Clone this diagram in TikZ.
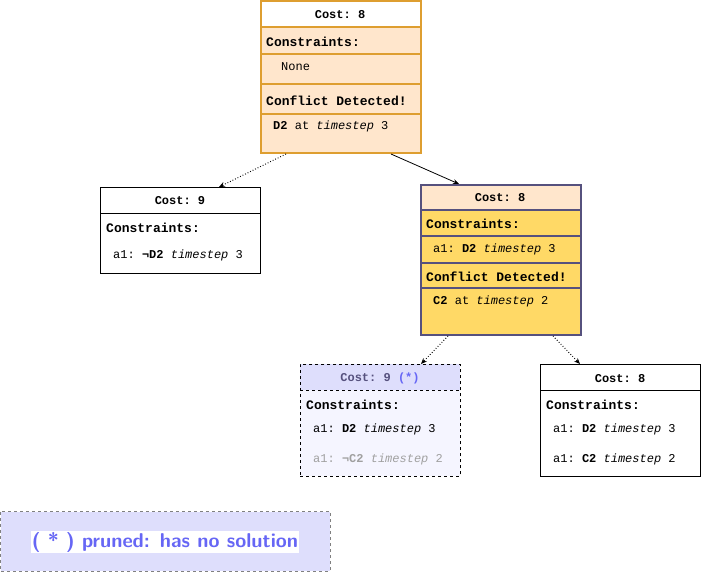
\documentclass[tikz,border=0pt]{standalone}
\usepackage{fontspec}
\setmainfont{Liberation Sans}
\setmonofont{Liberation Mono}
\usetikzlibrary{arrows.meta}

\definecolor{ordraw}{RGB}{222,158,48}
\definecolor{orfill}{HTML}{FFE6CC}
\definecolor{yefill}{HTML}{FFD966}
\definecolor{pudraw}{HTML}{56517E}
\definecolor{lavhead}{HTML}{DEDEFC}
\definecolor{lavbody}{HTML}{F5F5FF}
\definecolor{prunblue}{HTML}{6666F5}
\definecolor{greytxt}{HTML}{A0A0A0}

\tikzset{
  costlbl/.style={inner sep=0pt, yshift=-0.8pt, font=\ttfamily\bfseries\fontsize{12}{14}\selectfont},
  headlbl/.style={anchor=west, inner sep=0pt, yshift=-0.8pt, font=\ttfamily\bfseries\fontsize{13}{15}\selectfont},
  rowlbl/.style={anchor=west, inner sep=0pt, yshift=-0.8pt, font=\ttfamily\fontsize{12}{14}\selectfont},
  frame/.style={anchor=north west, inner sep=0pt, minimum width=160pt, fill=none},
  tip/.style={-{Stealth[length=6pt, width=5pt]}, line width=0.8pt}
}

\begin{document}
\begin{tikzpicture}[x=1pt, y=1pt]
  \useasboundingbox (0,0) rectangle (701,-572);
  \fill[fill=white] (260,0) rectangle (420,-27);
  \fill[fill=orfill] (260,-27) rectangle (420,-152);
  \draw[ordraw, line width=2pt] (260,-27) -- (420,-27);
  \draw[ordraw, line width=2pt] (260,-54) -- (420,-54);
  \draw[ordraw, line width=2pt] (260,-84) -- (420,-84);
  \draw[ordraw, line width=2pt] (260,-114) -- (420,-114);
  \node[frame, draw=ordraw, line width=2pt, minimum height=152pt] (root) at (260,0) {};
  \node[costlbl] (rootcost) at (340,-14) {Cost: 8};
  \node[headlbl] (rootcons) at (266,-41) {Constraints:};
  \node[rowlbl] (rootnone) at (281,-66) {None};
  \node[headlbl] (rootconf) at (266,-100) {Conflict Detected!};
  \node[rowlbl] (rootat) at (273,-126) {\textbf{D2} at \textit{timestep} 3};
  \fill[fill=white] (100,-187) rectangle (260,-273);
  \draw[black, line width=0.8pt] (100,-213) -- (260,-213);
  \node[frame, draw=black, line width=0.8pt, minimum height=86pt] (left) at (100,-187) {};
  \node[costlbl] (leftcost) at (180,-200) {Cost: 9};
  \node[headlbl] (leftcons) at (106,-227) {Constraints:};
  \node[rowlbl] (leftrow) at (113,-255) {a1: \textbf{¬D2} \textit{timestep} 3};
  \fill[fill=orfill] (420,-184) rectangle (580,-210);
  \fill[fill=yefill] (420,-210) rectangle (580,-334);
  \draw[pudraw, line width=2pt] (420,-210) -- (580,-210);
  \draw[pudraw, line width=2pt] (420,-236) -- (580,-236);
  \draw[pudraw, line width=2pt] (420,-263) -- (580,-263);
  \draw[pudraw, line width=2pt] (420,-288) -- (580,-288);
  \node[frame, draw=pudraw, line width=2pt, minimum height=150pt] (mid) at (420,-184) {};
  \node[costlbl] (midcost) at (500,-197) {Cost: 8};
  \node[headlbl] (midcons) at (426,-223) {Constraints:};
  \node[rowlbl] (midrow) at (433,-249) {a1: \textbf{D2} \textit{timestep} 3};
  \node[headlbl] (midconf) at (426,-276) {Conflict Detected!};
  \node[rowlbl] (midat) at (433,-301) {\textbf{C2} at \textit{timestep} 2};
  \fill[fill=lavhead] (300,-364) rectangle (460,-390);
  \fill[fill=lavbody] (300,-390) rectangle (460,-476);
  \draw[black, line width=0.8pt, dashed] (300,-390) -- (460,-390);
  \node[frame, draw=black, line width=0.8pt, dashed, minimum height=112pt] (pruned) at (300,-364) {};
  \node[costlbl, text=pudraw] (prunedcost) at (380,-378) {Cost: 9 \textcolor{prunblue}{(*)}};
  \node[headlbl] (prunedcons) at (306,-404) {Constraints:};
  \node[rowlbl] (prunedrow) at (313,-429) {a1: \textbf{D2} \textit{timestep} 3};
  \node[rowlbl, text=greytxt] (prunedneg) at (313,-459) {a1: \textbf{¬C2} \textit{timestep} 2};
  \fill[fill=white] (540,-364) rectangle (700,-476);
  \draw[black, line width=0.8pt] (540,-390) -- (700,-390);
  \node[frame, draw=black, line width=0.8pt, minimum height=112pt] (right) at (540,-364) {};
  \node[costlbl] (rightcost) at (620,-378) {Cost: 8};
  \node[headlbl] (rightcons) at (546,-404) {Constraints:};
  \node[rowlbl] (rightrow) at (553,-429) {a1: \textbf{D2} \textit{timestep} 3};
  \node[rowlbl] (rightrowb) at (553,-459) {a1: \textbf{C2} \textit{timestep} 2};
  \draw[tip, dotted, line width=1pt] ([xshift=26pt]root.south west) -- ([xshift=119pt]left.north west);
  \draw[tip] ([xshift=131pt]root.south west) -- ([xshift=39pt]mid.north west);
  \draw[tip, dotted, line width=1pt] ([xshift=28pt]mid.south west) -- ([xshift=121pt]pruned.north west);
  \draw[tip, dotted, line width=1pt] ([xshift=133pt]mid.south west) -- ([xshift=40pt]right.north west);
  \fill[fill=lavhead] (0.5,-511.5) rectangle (330,-571);
  \draw[gray, line width=0.6pt, dashed] (0.5,-511.5) rectangle (330,-571);
  \node[fill=white, text=prunblue, inner sep=1pt, font=\sffamily\bfseries\fontsize{20}{24}\selectfont] (legend) at (165,-542) {( * ) pruned: has no solution};
\end{tikzpicture}
\end{document}
